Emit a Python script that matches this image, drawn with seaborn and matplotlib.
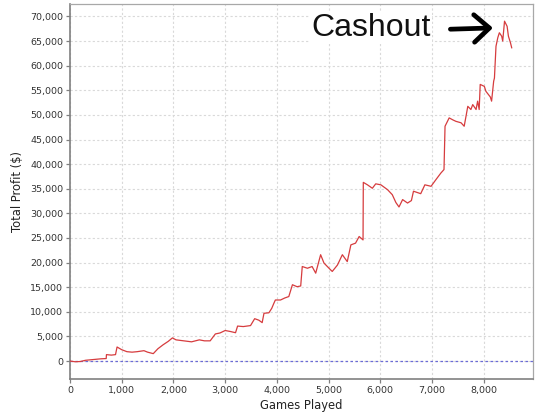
import matplotlib
matplotlib.use("Agg")
import matplotlib.pyplot as plt
from matplotlib.ticker import FuncFormatter
import pandas as pd
import seaborn as sns

# cumulative profit (games played, total profit $)
games = [0, 100, 200, 300, 450, 600, 700, 705, 800, 880, 910, 1000, 1100, 1200,
         1300, 1430, 1500, 1610, 1700, 1800, 1900, 1980, 2050, 2200, 2350, 2500,
         2600, 2710, 2810, 2900, 3000, 3100, 3200, 3240, 3350, 3490, 3570, 3650,
         3715, 3750, 3845, 3900, 3940, 3970, 4070, 4150, 4230, 4300, 4390, 4460,
         4490, 4590, 4680, 4750, 4845, 4910, 5040, 5070, 5170, 5265, 5360, 5430,
         5520, 5590, 5665, 5670, 5750, 5845, 5910, 6010, 6140, 6230, 6300, 6360,
         6430, 6525, 6600, 6640, 6780, 6860, 6980, 7070, 7170, 7230, 7250, 7330,
         7400, 7460, 7560, 7620, 7655, 7690, 7750, 7785, 7850, 7880, 7910, 7930,
         8010, 8040, 8125, 8150, 8190, 8205, 8235, 8270, 8300, 8345, 8365, 8400,
         8450, 8475, 8515, 8540]
profit = [0, -150, -100, 150, 300, 450, 500, 1300, 1200, 1300, 2850, 2300, 1900,
          1800, 1900, 2100, 1800, 1500, 2500, 3300, 4000, 4700, 4300, 4100, 3900,
          4300, 4100, 4100, 5500, 5700, 6200, 6000, 5750, 7100, 7000, 7200, 8600,
          8300, 7800, 9700, 9800, 10700, 11700, 12400, 12400, 12800, 13100, 15500,
          15100, 15250, 19200, 18850, 19200, 17850, 21600, 19900, 18500, 18200,
          19500, 21600, 20200, 23600, 23950, 25300, 24600, 36300, 35800, 35100,
          36000, 35800, 34800, 33800, 32200, 31300, 32800, 32100, 32600, 34500,
          34000, 35800, 35500, 36800, 38200, 38900, 47700, 49400, 49000, 48700,
          48400, 47700, 49700, 51750, 51100, 52100, 51100, 52800, 51100, 56200,
          55800, 54800, 53650, 52800, 56850, 57500, 63950, 65700, 66700, 66000,
          65000, 69050, 68000, 66000, 64650, 63600]

x_ticks = list(range(0, 9000, 1000))
y_ticks = list(range(0, 75000, 5000))

df = pd.DataFrame({"games": games, "profit": profit})

sns.set_style("white")
plt.rcParams["font.family"] = ["DejaVu Sans"]

fig = plt.figure(figsize=(5.4, 4.19), dpi=100)
ax = fig.add_axes([0.1296, 0.0955, 0.8574, 0.8945])

ax.grid(True, color="#d9d9d9", linestyle=(0, (2, 2)), linewidth=0.8)
ax.axhline(0, color="#6b6bd6", linestyle=(0, (2, 2)), linewidth=0.9, zorder=2)
sns.lineplot(data=df, x="games", y="profit", ax=ax, color="#d63c3e",
             linewidth=0.9, estimator=None, sort=False, zorder=3)

ax.set_xlim(0, 8950)
ax.set_ylim(-3650, 72500)
ax.set_xticks(x_ticks)
ax.set_yticks(y_ticks)
fmt = FuncFormatter(lambda v, p: f"{int(v):,}")
ax.xaxis.set_major_formatter(fmt)
ax.yaxis.set_major_formatter(fmt)
ax.tick_params(axis="both", labelsize=6.8, labelcolor="#333333", length=3,
               width=0.9, direction="out", pad=2, color="#808080")
ax.tick_params(left=True, bottom=True)

for side in ["left", "bottom"]:
    ax.spines[side].set_color("#808080")
    ax.spines[side].set_linewidth(1.2)
for side in ["top", "right"]:
    ax.spines[side].set_color("#a8a8a8")
    ax.spines[side].set_linewidth(0.9)

ax.set_xlabel("Games Played", fontsize=8.3, color="#222222", labelpad=3)
ax.set_ylabel("Total Profit ($)", fontsize=8.3, color="#222222", labelpad=4)

ax.text(5820, 67700, "Cashout", fontsize=23, family="Liberation Sans",
        ha="center", va="center", color="#111111", zorder=5,
        bbox=dict(facecolor="white", edgecolor="none", pad=1))
ax.annotate("", xy=(8230, 67700), xytext=(7300, 67400),
            arrowprops=dict(arrowstyle="->,head_length=0.5,head_width=0.45",
                            color="black", lw=3.4, mutation_scale=22),
            zorder=5)

plt.savefig("out.png", dpi=100)
